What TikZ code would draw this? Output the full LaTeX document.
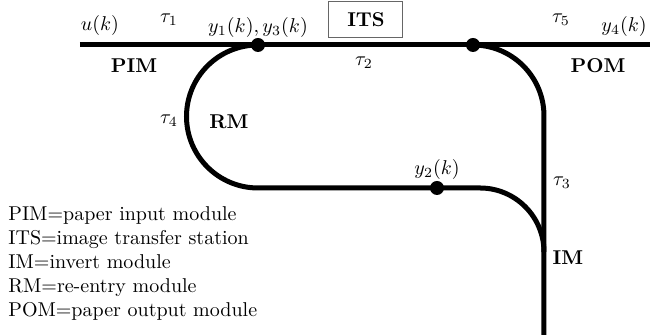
\documentclass[tikz,border=0pt]{standalone}
\begin{document}
\begin{tikzpicture}[x=0.5pt,y=0.5pt,
  track/.style={line width=2.5pt},
  dot/.style={circle,fill=black,inner sep=0pt,minimum size=7pt},
  lbl/.style={inner sep=0pt},
  mod/.style={inner sep=0pt,font=\bfseries},
  itsbox/.style={draw=black!60,line width=0.5pt,minimum width=37pt,minimum height=18pt,inner sep=0pt,font=\bfseries}]
\useasboundingbox (0,0) rectangle (650,335);
% coordinates
\coordinate (a) at (80,290);
\coordinate (e) at (651,290);
\coordinate (d1c) at (258,290);
\coordinate (d2c) at (473,290);
\coordinate (bc) at (480,147);
\coordinate (bot) at (544,0);
% tracks
\draw[track] (a) -- (e);
\draw[track] (d1c) arc[start angle=90,end angle=270,radius=71.5] -- (bc) arc[start angle=90,end angle=0,radius=64];
\draw[track] (d2c) arc[start angle=90,end angle=0,radius=71] -- (bot);
% dots
\node[dot] (d1) at (d1c) {};
\node[dot] (d2) at (d2c) {};
\node[dot] (d3) at (437,147) {};
% labels
\node[lbl] (u) at (100,309) {$u(k)$};
\node[lbl] (t1) at (169,315) {$\tau_1$};
\node[lbl] (y13) at (258,307) {$y_1(k),y_3(k)$};
\node[itsbox] (its) at (366,315) {ITS};
\node[lbl] (t5) at (561,315) {$\tau_5$};
\node[lbl] (y4) at (624,308) {$y_4(k)$};
\node[mod] (pim) at (134,269) {PIM};
\node[lbl] (t2) at (364,272) {$\tau_2$};
\node[mod] (pom) at (598,269) {POM};
\node[lbl] (t4) at (169,214) {$\tau_4$};
\node[mod] (rm) at (229,213) {RM};
\node[lbl] (y2) at (437,165) {$y_2(k)$};
\node[lbl] (t3) at (562,152) {$\tau_3$};
\node[mod] (im) at (568,77) {IM};
\node[lbl,anchor=west,align=left] (legend) at (8,71) {PIM=paper input module\\ITS=image transfer station\\IM=invert module\\RM=re-entry module\\POM=paper output module};
\end{tikzpicture}
\end{document}
